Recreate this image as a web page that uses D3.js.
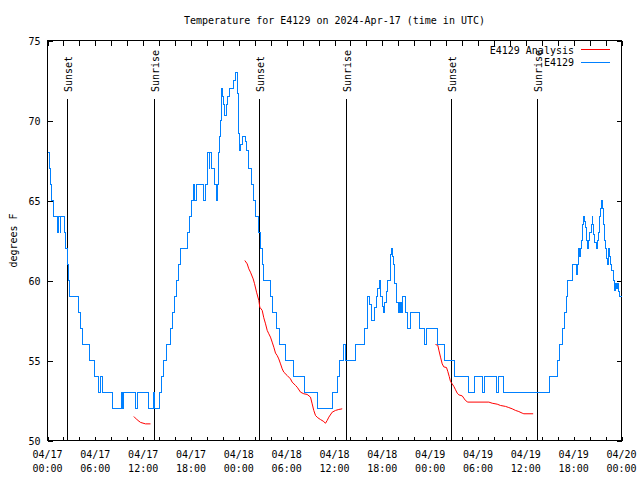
<!DOCTYPE html>
<html><head><meta charset="utf-8">
<script src="https://cdn.jsdelivr.net/npm/d3@7"></script>
<style>
body{margin:0;background:#fff}
text{font-family:"DejaVu Sans Mono",monospace;font-size:10px;fill:#000}
</style>
</head><body><svg id="c" width="640" height="480"></svg>
<script>
// ---- data (hours since 2024-04-17 00:00 UTC, degrees F) ----
const chartTitle = "Temperature for E4129 on 2024-Apr-17 (time in UTC)";
const yLabel = "degrees F";
const yTicks = [50, 55, 60, 65, 70, 75];
const seriesNames = ["E4129 Analysis", "E4129"];
const seriesColors = ["#ff0000", "#0080ff"];
const sunEventLabels = ["Sunset", "Sunrise", "Sunset", "Sunrise", "Sunset", "Sunrise"];
const sunEventHours = [2.51, 13.42, 26.59, 37.50, 50.68, 61.46];

const observed = [[0,68],[0.19,67],[0.38,66],[0.56,65],[0.79,64],[1.29,63],[1.44,64],[1.57,63],[1.69,64],[2.13,63],[2.32,62],[2.51,61],[2.63,60],[2.82,59],[3.83,58],[4.08,57],[4.39,56],[5.33,55],[5.90,54],[6.40,53],[6.71,54],[6.84,53],[8.15,52],[9.28,53],[9.41,52],[9.53,53],[11.04,52],[11.23,53],[12.67,52],[13.30,53],[13.42,52],[14.11,53],[14.36,54],[14.55,55],[14.93,56],[15.43,57],[15.68,58],[15.93,59],[16.18,60],[16.49,61],[16.68,62],[17.56,63],[17.81,64],[18.06,65],[18.28,66],[18.44,65],[18.69,66],[19.57,65],[19.82,66],[20.01,67],[20.11,68],[20.26,67],[20.38,68],[20.51,67],[20.89,66],[21.14,65],[21.32,66],[21.48,68],[21.57,69],[21.70,70],[21.83,72],[21.95,71.5],[22.08,71],[22.26,70.3],[22.45,71],[22.64,71.5],[22.87,72],[23.37,72.5],[23.52,72.8],[23.64,73],[23.77,72.3],[23.87,71.7],[23.96,70.6],[24.02,69.2],[24.08,68.1],[24.21,68.5],[24.40,69],[24.84,68.7],[25.02,68.1],[25.17,67.5],[25.27,67],[25.53,66],[25.78,65],[26.09,64],[26.47,63],[26.68,62],[26.93,61],[27.13,60],[27.91,59],[28.22,58],[28.73,57],[29.14,56],[29.85,55],[30.90,54],[32.24,53],[33.87,52],[35.71,53],[36.34,54],[36.63,55],[37.13,56],[37.32,55],[38.63,56],[39.80,57],[40.10,59],[40.45,58.5],[40.64,57.5],[41.02,58.3],[41.23,59],[41.43,59.5],[41.64,60],[41.81,59],[42.02,58.4],[42.19,58],[42.31,58.6],[42.49,59.3],[42.61,60],[42.99,60.5],[43.07,61.6],[43.15,62],[43.28,61.5],[43.40,61],[43.52,59.8],[43.78,58.6],[43.99,58],[44.07,58.6],[44.19,58],[44.28,58.6],[44.40,58],[44.57,59],[44.94,58],[45.16,57],[45.57,58],[46.72,57],[47.35,56],[47.60,57],[48.98,56],[49.86,55],[51.05,54],[52.85,53],[53.62,54],[54.56,53],[54.81,54],[56.36,53],[56.63,54],[57.14,53],[63.03,54],[63.97,55],[64.22,56],[64.54,57],[64.79,58],[65.04,59],[65.26,60],[65.89,61],[66.32,60.4],[66.45,61],[66.57,62],[66.74,61.5],[66.86,62],[66.99,62.5],[67.15,63.5],[67.28,64],[67.36,63.7],[67.49,63.3],[67.61,62.5],[67.78,62],[67.90,62.5],[68.03,63],[68.21,63.5],[68.33,64],[68.41,63.5],[68.53,62.9],[68.66,62.4],[68.84,62],[68.97,62.5],[69.09,63],[69.26,64],[69.38,64.5],[69.47,65],[69.59,64.5],[69.72,63.5],[69.88,62.5],[70.01,62],[70.13,61.4],[70.22,61],[70.42,62],[70.55,61.5],[70.63,61],[70.76,60.6],[70.97,60],[71.13,59.4],[71.26,59.8],[71.38,59.5],[71.54,59.8],[71.67,59.3],[71.79,59],[72,59]];

const analysisDay1 = [[10.83,51.5],[11.25,51.29],[11.67,51.13],[12.29,51.04],[12.92,51.04]];
const analysisDay2 = [[24.75,61.25],[25.05,61.04],[25.25,60.73],[25.46,60.52],[25.80,60.1],[25.97,59.8],[26.22,59.27],[26.51,58.75],[26.63,58.33],[26.93,58.13],[27.13,57.67],[27.35,57.29],[27.56,56.88],[27.76,56.67],[27.97,56.46],[28.18,56.15],[28.39,55.83],[28.60,55.46],[28.81,55.31],[29.01,55.1],[29.23,54.79],[29.44,54.48],[29.64,54.27],[30.07,54.06],[30.48,53.85],[30.69,53.65],[31.11,53.44],[31.32,53.33],[31.74,53.02],[32.15,52.92],[32.57,52.88],[32.99,52.71],[33.20,52.29],[33.40,51.88],[33.62,51.56],[33.91,51.42],[34.24,51.31],[34.58,51.21],[34.87,51.08],[35.08,51.25],[35.29,51.46],[35.71,51.77],[36.13,51.88],[36.54,51.94],[36.97,51.98]];
const analysisDay3 = [[48.67,56.0],[48.96,55.95],[49.09,55.65],[49.30,55.21],[49.51,54.79],[49.71,54.6],[50.05,54.56],[50.22,54.3],[50.39,54.0],[50.55,53.69],[50.76,53.54],[50.97,53.38],[51.18,53.17],[51.39,52.96],[51.60,52.85],[52.02,52.79],[52.22,52.65],[52.43,52.5],[52.72,52.4],[55.36,52.4],[55.78,52.33],[56.41,52.27],[56.82,52.19],[57.45,52.13],[57.86,52.06],[58.29,51.98],[58.70,51.88],[59.12,51.81],[59.54,51.71],[59.75,51.67],[60.92,51.67]];

// ---- drawing ----
const start = Date.UTC(2024, 3, 17);
const toDate = h => new Date(start + h * 3600e3);
const L = 47.5, R = 621.5, T = 40.5, B = 440.5;
const svg = d3.select("#c");
const x = d3.scaleUtc().domain([toDate(0), toDate(72)]).range([L, R]);
const y = d3.scaleLinear().domain([50, 75]).range([B, T]);

// title
svg.append("text").attr("x", (L + R) / 2).attr("y", 20).attr("text-anchor", "middle")
  .attr("dominant-baseline", "central").text(chartTitle);
// y label
svg.append("text").attr("transform", `translate(13,${(T + B) / 2}) rotate(-90)`)
  .attr("text-anchor", "middle").attr("dominant-baseline", "central").text(yLabel);

const minorTicks = x.ticks(d3.utcHour.every(2));
const g = svg.append("g").attr("shape-rendering", "crispEdges");

// axes (ticks inward)
const axB = g.append("g").attr("transform", `translate(0,${B})`)
  .call(d3.axisBottom(x).tickValues(minorTicks).tickSize(-4).tickFormat(""));
const axT = g.append("g").attr("transform", `translate(0,${T})`)
  .call(d3.axisTop(x).tickValues(minorTicks).tickSize(-5).tickFormat(""));
const axL = g.append("g").attr("transform", `translate(${L},0)`)
  .call(d3.axisLeft(y).tickValues(yTicks).tickSize(-5).tickPadding(7).tickFormat(d3.format("d")));
const axR = g.append("g").attr("transform", `translate(${R},0)`)
  .call(d3.axisRight(y).tickValues(yTicks).tickSize(-5).tickFormat(""));
[axB, axT, axL, axR].forEach(a => {
  a.select(".domain").remove();
  a.selectAll("line").attr("stroke", "#000");
  a.selectAll("text").attr("font-family", null).attr("font-size", null).attr("fill", "#000");
});
axL.selectAll("text").attr("dy", null).attr("dominant-baseline", "central");

// x tick labels (two lines)
const majorTicks = x.ticks(d3.utcHour.every(6));
const fmtDay = d3.utcFormat("%m/%d"), fmtHour = d3.utcFormat("%H:%M");
majorTicks.forEach(d => {
  svg.append("text").attr("x", x(d)).attr("y", 454).attr("text-anchor", "middle")
    .attr("dominant-baseline", "central").text(fmtDay(d));
  svg.append("text").attr("x", x(d)).attr("y", 468).attr("text-anchor", "middle")
    .attr("dominant-baseline", "central").text(fmtHour(d));
});

// sun events
sunEventHours.forEach((h, i) => {
  const sx = Math.floor(x(toDate(h))) + 0.5;
  g.append("line").attr("x1", sx).attr("x2", sx).attr("y1", 99).attr("y2", B)
    .attr("stroke", "#000").attr("stroke-width", 1);
  svg.append("text").attr("transform", `translate(${sx + 4.5},92) rotate(-90)`)
    .attr("text-anchor", "start").text(sunEventLabels[i]);
});

// frame
g.append("rect").attr("x", L).attr("y", T).attr("width", R - L).attr("height", B - T)
  .attr("fill", "none").attr("stroke", "#000");

// analysis series
const lineA = d3.line().x(d => x(toDate(d[0]))).y(d => y(d[1]));
[analysisDay1, analysisDay2, analysisDay3].forEach(seg => {
  svg.append("path").datum(seg).attr("d", lineA).attr("fill", "none")
    .attr("stroke", seriesColors[0]).attr("stroke-width", 1);
});
// observed series
const lineO = d3.line().curve(d3.curveStepAfter).x(d => x(toDate(d[0]))).y(d => y(d[1]));
svg.append("path").datum(observed).attr("d", lineO).attr("fill", "none")
  .attr("stroke", seriesColors[1]).attr("stroke-width", 1).attr("shape-rendering", "crispEdges");

// legend
seriesNames.forEach((n, i) => {
  const ly = 50 + i * 12.5;
  svg.append("text").attr("x", 574).attr("y", ly).attr("text-anchor", "end")
    .attr("dominant-baseline", "central").text(n);
  g.append("line").attr("x1", 581).attr("x2", 610).attr("y1", ly - 0.5).attr("y2", ly - 0.5)
    .attr("stroke", seriesColors[i]).attr("stroke-width", 1);
});
</script>
</body></html>
